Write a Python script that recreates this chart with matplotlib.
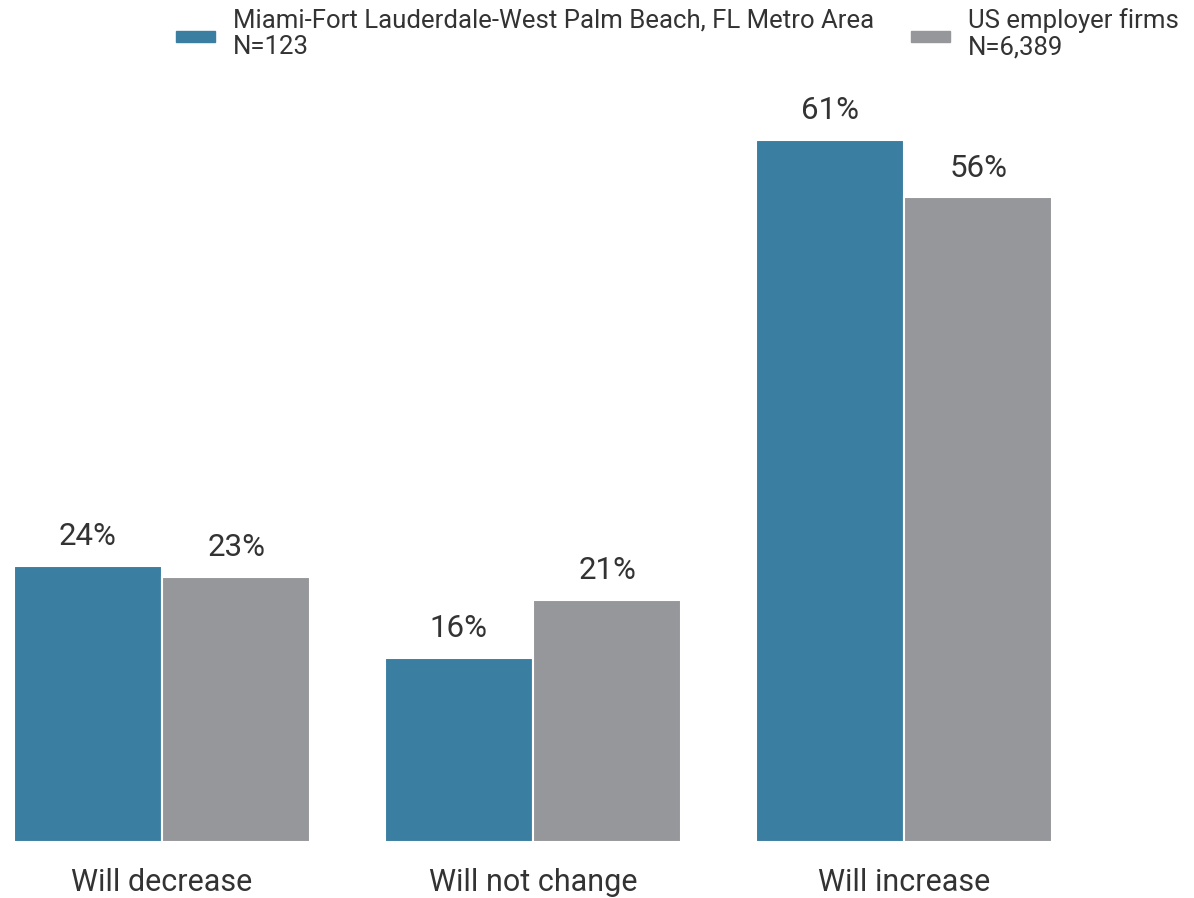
import numpy as np
import matplotlib.pyplot as plt
from matplotlib.patches import Rectangle

categories = ['Will decrease', 'Will not change', 'Will increase']
miami = [24, 16, 61]
us = [23, 21, 56]
series_names = ['Miami-Fort Lauderdale-West Palm Beach, FL Metro Area\nN=123',
                'US employer firms\nN=6,389']
colors = ['#3a7ea1', '#96979b']

plt.rcParams['font.family'] = ['Roboto', 'DejaVu Sans']

W, H = 1194, 898
fig = plt.figure(figsize=(W / 100, H / 100), dpi=100)

# axes spans the full width; baseline at 842px, 11.51 px per percent
px_per_unit = 371.0
px_per_pct = 11.51
top_px = 80
ax = fig.add_axes([0, (H - 842) / H, 1, (842 - top_px) / H])
ax.set_xlim(-162 / px_per_unit, (W - 162) / px_per_unit)
ax.set_ylim(0, (842 - top_px) / px_per_pct)

x = np.arange(len(categories))
w = 0.4
b1 = ax.bar(x - w / 2, miami, w, color=colors[0], edgecolor='white', linewidth=1.5)
b2 = ax.bar(x + w / 2, us, w, color=colors[1], edgecolor='white', linewidth=1.5)

for bars, vals in [(b1, miami), (b2, us)]:
    for r, v in zip(bars, vals):
        ax.annotate(f'{v}%', (r.get_x() + r.get_width() / 2, v),
                    xytext=(0, 15), textcoords='offset points',
                    ha='center', va='baseline', fontsize=22.5, color='#333333')

ax.set_xticks(x)
ax.set_xticklabels(categories, fontsize=22, color='#333333')
ax.tick_params(axis='x', length=0, pad=19)
ax.set_yticks([])
for s in ax.spines.values():
    s.set_visible(False)

# legend drawn by hand at the top
leg = [(176, 233), (911, 968)]
for (px, tx), name, c in zip(leg, series_names, colors):
    fig.patches.append(Rectangle((px / W, 1 - 42 / H), 39 / W, 11 / H,
                                 transform=fig.transFigure, color=c))
    fig.text(tx / W, 1 - 34 / H, name, ha='left', va='center',
             fontsize=18.5, color='#333333', linespacing=1.15)

fig.savefig('out.png', dpi=100)
